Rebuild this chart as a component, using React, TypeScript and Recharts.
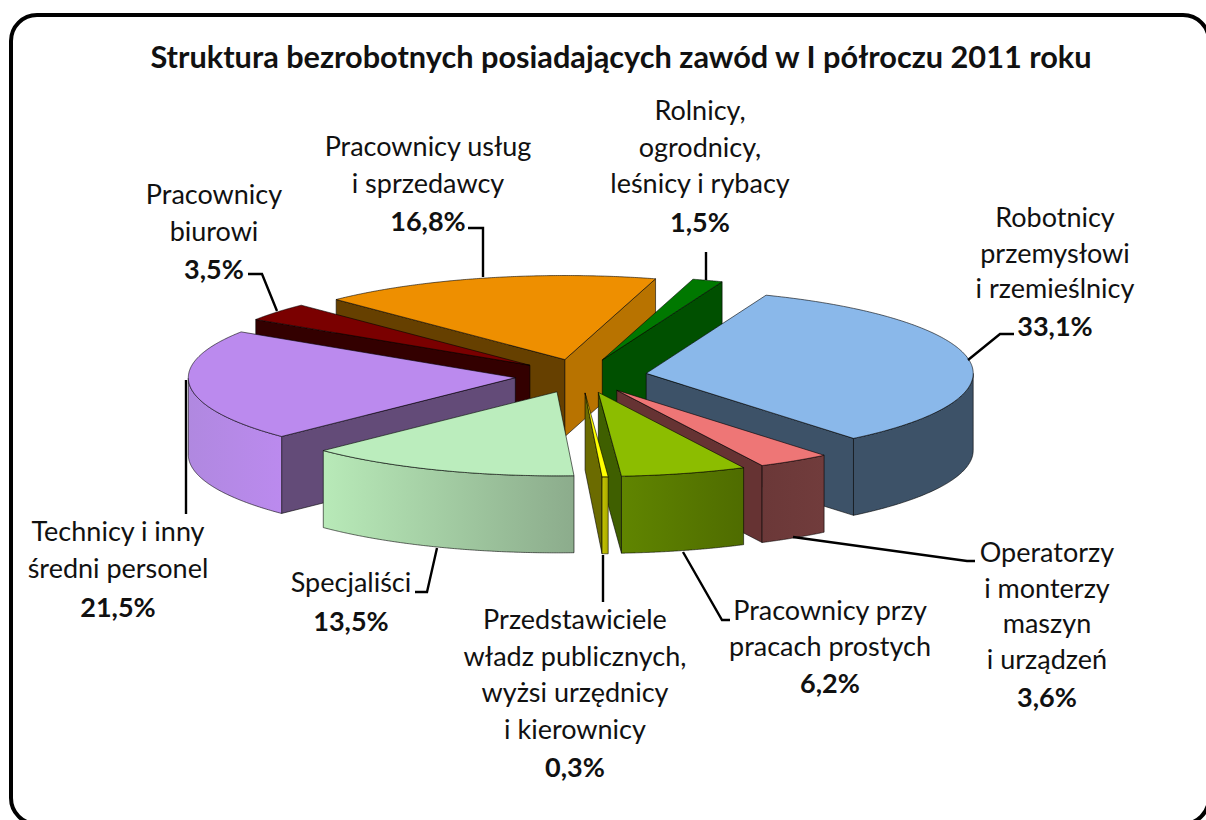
import { PieChart, Pie } from 'recharts';

const names = [
  'Robotnicy przemysłowi i rzemieślnicy',
  'Operatorzy i monterzy maszyn i urządzeń',
  'Pracownicy przy pracach prostych',
  'Przedstawiciele władz publicznych, wyżsi urzędnicy i kierownicy',
  'Specjaliści',
  'Technicy i inny średni personel',
  'Pracownicy biurowi',
  'Pracownicy usług i sprzedawcy',
  'Rolnicy, ogrodnicy, leśnicy i rybacy',
];
const shares = [33.1, 3.6, 6.2, 0.3, 13.5, 21.5, 3.5, 16.8, 1.5];
const shareLabels = ['33,1%', '3,6%', '6,2%', '0,3%', '13,5%', '21,5%', '3,5%', '16,8%', '1,5%'];
const labelLines = [
  ['Robotnicy', 'przemysłowi', 'i rzemieślnicy'],
  ['Operatorzy', 'i monterzy', 'maszyn', 'i urządzeń'],
  ['Pracownicy przy', 'pracach prostych'],
  ['Przedstawiciele', 'władz publicznych,', 'wyżsi urzędnicy', 'i kierownicy'],
  ['Specjaliści'],
  ['Technicy i inny', 'średni personel'],
  ['Pracownicy', 'biurowi'],
  ['Pracownicy usług', 'i sprzedawcy'],
  ['Rolnicy,', 'ogrodnicy,', 'leśnicy i rybacy'],
];

const pieData = names.map((name, i) => ({ name, value: shares[i] }));

// back to front
const paintOrder = [7, 8, 6, 5, 0, 1, 2, 3, 4];

const topColors = ['#8AB8EA', '#EE7676', '#8CBD00', '#FFFF00', '#BBEDBD', '#BB8AEE', '#7A0000', '#EE8F00', '#007800'];
const startWall = ['#3D5268', '#663333', '#3F5F00', '#6B6B00', '#8CAC8C', '#634B78', '#330000', '#664000', '#005000'];
const endWall = ['#3D5268', '#663333', '#3F5F00', '#6B6B00', '#8CAC8C', '#634B78', '#330000', '#B87300', '#005000'];
const arcLeft = ['#3D5268', '#6B3838', '#608500', '#C4C400', '#B8EAB8', '#B088E0', '#330000', '#B87300', '#005000'];
const arcRight = ['#3D5268', '#713C3C', '#4F6C00', '#A8A800', '#8CAC8C', '#BB8AEE', '#330000', '#B87300', '#005000'];

const labelCenter = [1055, 1047, 830, 575, 351, 118, 214, 428, 700];
const labelTop = [227, 562, 620, 629, 592, 541, 204, 156, 120];
const lineStep = [35.5, 35.7, 35.5, 36.5, 37, 37, 36.5, 36.5, 36.5];
const leaders = [
  '968,360 1000,334 1014,334',
  '793,537 967,561 975,561',
  '683,552 722,620 730,620',
  '603,555 603,602',
  '437,548 427,592 415,592',
  '186,380 186,514',
  '248,274 262,274 277,311',
  '468,228 483,228 483,277',
  '706,252 706,280',
];

const SQUASH = 0.257;
const DEPTH = 77;
const EXPLODE = 66;
const FONT = 'Lato, "Open Sans", sans-serif';
const RAD = Math.PI / 180;

const Slice3D = (props: any) => {
  const { cx, cy, outerRadius, startAngle, endAngle, midAngle } = props;
  const idx = names.indexOf(props.name);
  const ox = cx + EXPLODE * Math.cos(midAngle * RAD);
  const oy = cy - EXPLODE * SQUASH * Math.sin(midAngle * RAD);
  const pt = (a: number, drop = 0): [number, number] => [
    ox + outerRadius * Math.cos(a * RAD),
    oy - outerRadius * SQUASH * Math.sin(a * RAD) + drop,
  ];
  const toPath = (pts: [number, number][]) =>
    'M' + pts.map((p) => p[0].toFixed(2) + ',' + p[1].toFixed(2)).join('L') + 'Z';

  const steps = 160;
  const angles: number[] = [];
  for (let s = 0; s <= steps; s++) angles.push(startAngle + ((endAngle - startAngle) * s) / steps);

  const apex: [number, number] = [ox, oy];
  const rim = angles.map((a) => pt(a));
  const front = angles.filter((a) => Math.sin(a * RAD) <= 0.002);
  const mid = pt(midAngle);
  const centroid: [number, number] = [(apex[0] + mid[0]) / 2, (apex[1] + mid[1]) / 2];

  // a cut wall shows only when the top face lies above its edge
  const wallShows = (p: [number, number]) => {
    const ex = p[0] - apex[0];
    const ey = p[1] - apex[1];
    const sideTop = ex * (centroid[1] - apex[1]) - ey * (centroid[0] - apex[0]);
    const sideDown = ex * DEPTH;
    return sideTop * sideDown < 0;
  };
  const cutWall = (p: [number, number]) =>
    toPath([apex, p, [p[0], p[1] + DEPTH], [apex[0], apex[1] + DEPTH]]);

  const startPt = pt(startAngle);
  const endPt = pt(endAngle);
  const edge = { stroke: '#000', strokeOpacity: 0.65, strokeWidth: 0.9, strokeLinejoin: 'round' as const };
  const gradId = 'arc-wall-' + idx;

  return (
    <g>
      <defs>
        <linearGradient id={gradId} x1="0" y1="0" x2="1" y2="0">
          <stop offset="0" stopColor={arcLeft[idx]} />
          <stop offset="1" stopColor={arcRight[idx]} />
        </linearGradient>
      </defs>
      {wallShows(startPt) && <path d={cutWall(startPt)} fill={startWall[idx]} {...edge} />}
      {wallShows(endPt) && <path d={cutWall(endPt)} fill={endWall[idx]} {...edge} />}
      {front.length > 1 && (
        <path
          d={toPath([
            ...front.map((a) => pt(a)),
            ...front.slice().reverse().map((a) => pt(a, DEPTH)),
          ])}
          fill={'url(#' + gradId + ')'}
          {...edge}
        />
      )}
      <path d={toPath([apex, ...rim])} fill={topColors[idx]} {...edge} />
    </g>
  );
};

const SliceLabel = (props: any) => {
  const i = props.index;
  const lines = labelLines[i];
  return (
    <g>
      <polyline points={leaders[i]} fill="none" stroke="#000" strokeWidth={2.4} />
      <text textAnchor="middle" fontFamily={FONT} fontSize={27} fill="#111">
        {lines.map((line, k) => (
          <tspan key={k} x={labelCenter[i]} y={labelTop[i] + k * lineStep[i]}>
            {line}
          </tspan>
        ))}
        <tspan
          x={labelCenter[i]}
          y={labelTop[i] + lines.length * lineStep[i] + 2}
          fontWeight={700}
        >
          {shareLabels[i]}
        </tspan>
      </text>
    </g>
  );
};

const pieProps = {
  data: pieData,
  dataKey: 'value',
  nameKey: 'name',
  cx: 581,
  cy: 376,
  innerRadius: 0,
  outerRadius: 327,
  startAngle: 68.5,
  endAngle: -291.5,
  isAnimationActive: false,
};

export default function App() {
  return (
    <div style={{ position: 'absolute', left: 0, top: 0, width: 1206, height: 820, overflow: 'hidden', background: '#fff' }}>
      <div
        style={{
          position: 'absolute',
          left: 9,
          top: 13,
          width: 1202,
          height: 813,
          boxSizing: 'border-box',
          border: '4px solid #000',
          borderRadius: 28,
        }}
      />
      <div
        style={{
          position: 'absolute',
          left: 0,
          width: 1242,
          top: 38,
          textAlign: 'center',
          fontFamily: FONT,
          fontWeight: 700,
          fontSize: 30.7,
          color: '#111',
          whiteSpace: 'nowrap',
        }}
      >
        Struktura bezrobotnych posiadających zawód w I półroczu 2011 roku
      </div>
      <div style={{ position: 'absolute', left: 0, top: 0 }}>
        <PieChart width={1206} height={820} margin={{ top: 0, right: 0, bottom: 0, left: 0 }}>
          {paintOrder.map((sliceIdx) => (
            <Pie
              key={sliceIdx}
              {...pieProps}
              label={false}
              labelLine={false}
              shape={(p: any) => (p.name === names[sliceIdx] ? <Slice3D {...p} /> : <g />)}
            />
          ))}
          <Pie {...pieProps} shape={() => <g />} labelLine={false} label={(p: any) => <SliceLabel {...p} />} />
        </PieChart>
      </div>
    </div>
  );
}
